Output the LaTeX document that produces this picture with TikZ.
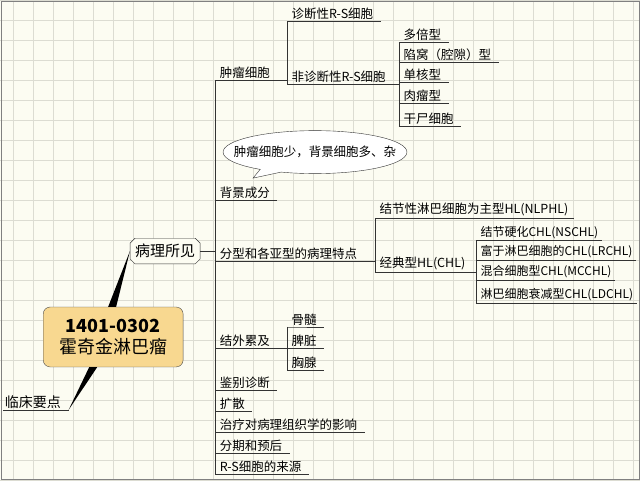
\documentclass[tikz,border=0pt]{standalone}
\usepackage{fontspec}
\newfontfamily\cjk{Noto Sans CJK SC}
\usetikzlibrary{shapes.misc,shapes.callouts}
\definecolor{paper}{HTML}{FCFCF2}
\definecolor{gridc}{HTML}{DCDCD2}
\definecolor{rootc}{HTML}{F8D890}
\tikzset{
  lbl/.style={anchor=south west, inner sep=1.5pt, font=\cjk\fontsize{12.5}{14}\selectfont},
  ul/.style={draw=black!80, line width=0.7pt}
}
\begin{document}
\begin{tikzpicture}[x=1pt,y=-1pt]
    \fill[paper] (0,0) rectangle (640,480);
    \draw[gridc, line width=0.5pt, xshift=13pt] (-13,0) grid[step=20pt] (627,480);
    \draw[gray] (0.5,0.5) rectangle (639.5,479.5);
    \useasboundingbox (0,0) rectangle (640,480);

    \node (root)[draw=black!70, fill=rootc, rounded corners=7pt, minimum width=140pt, minimum height=60pt,
      align=center, font=\cjk\fontsize{18}{21}\selectfont] at (113,337) {\textbf{1401-0302}\\霍奇金淋巴瘤};
    \node (path)[draw=black!80, fill=paper, chamfered rectangle, chamfered rectangle xsep=2pt, inner sep=3pt,
      font=\cjk\fontsize{15}{17}\selectfont] at (165,251) {病理所见};
    \node (clin)[anchor=south west, inner sep=1.5pt, font=\cjk\fontsize{14}{16}\selectfont] at (3,410) {临床要点};
    \draw[ul] (clin.south west) -- ([xshift=6pt]clin.south east) coordinate (clinE);
    \fill[black] ([xshift=-5pt]root.north) -- ([xshift=3pt]root.north) -- (path.west) -- cycle;
    \fill[black] ([xshift=-24pt]root.south) -- ([xshift=-16pt]root.south) -- (clinE) -- cycle;

    % main trunk
    \coordinate (t0a) at (215,80);  \coordinate (t0b) at (215,474);
    \draw[ul] (t0a) -- (t0b);
    \draw[ul] (path.east) -- (215,251);
    \foreach \name/\y/\txt in {tumor/80/肿瘤细胞, back/200/背景成分, type/261/分型和各亚型的病理特点,
       extra/348/结外累及, diff/390/鉴别诊断, spread/411/扩散, treat/432/治疗对病理组织学的影响,
       stage/453/分期和预后, origin/474/R-S细胞的来源}
      {\node (\name)[lbl] at (218,\y) {\txt};
       \draw[ul] (215,\y) -- (\name.south west) -- ([xshift=6pt]\name.south east);}

    % tumour cells
    \draw[ul] ([xshift=6pt]tumor.south east) -- (287,80);
    \draw[ul] (287,21) -- (287,84);
    \foreach \name/\y/\txt in {diag/21/诊断性R-S细胞, nondiag/84/非诊断性R-S细胞}
      {\node (\name)[lbl] at (290,\y) {\txt};
       \draw[ul] (287,\y) -- (\name.south west) -- ([xshift=6pt]\name.south east);}
    \draw[ul] ([xshift=6pt]nondiag.south east) -- (399,84);
    \draw[ul] (399,42) -- (399,126);
    \foreach \name/\y/\txt in {poly/42/多倍型, lacun/62/陷窝（腔隙）型, mono/82/单核型,
       sarc/103/肉瘤型, mummy/126/干尸细胞}
      {\node (\name)[lbl] at (402,\y) {\txt};
       \draw[ul] (399,\y) -- (\name.south west) -- ([xshift=6pt]\name.south east);}

    % background callout
    \node (note)[draw=black!80, fill=white, ellipse callout, inner xsep=-22pt, inner ysep=4pt,
      minimum width=184pt, minimum height=43pt,
      callout absolute pointer={(253,178)}, font=\cjk\fontsize{12.5}{14}\selectfont] at (315,152)
      {肿瘤细胞少，背景细胞多、杂};

    % types
    \draw[ul] ([xshift=6pt]type.south east) -- (375,261);
    \draw[ul] (375,218) -- (375,272);
    \foreach \name/\y/\txt in {nlphl/218/结节性淋巴细胞为主型HL(NLPHL), chl/272/经典型HL(CHL)}
      {\node (\name)[lbl] at (378,\y) {\txt};
       \draw[ul] (375,\y) -- (\name.south west) -- ([xshift=4pt]\name.south east);}
    \draw[ul] ([xshift=4pt]chl.south east) -- (476,272);
    \draw[ul] (476,240) -- (476,303);
    \foreach \name/\y/\txt in {ns/240/结节硬化CHL(NSCHL), lr/260/富于淋巴细胞的CHL(LRCHL),
       mc/280/混合细胞型CHL(MCCHL), ld/303/淋巴细胞衰减型CHL(LDCHL)}
      {\node (\name)[lbl, font=\cjk\fontsize{12}{14}\selectfont] at (479,\y) {\txt};
       \draw[ul] (476,\y) -- (\name.south west) -- ([xshift=2pt]\name.south east);}

    % extranodal
    \draw[ul] ([xshift=6pt]extra.south east) -- (287,348);
    \draw[ul] (287,327) -- (287,370);
    \foreach \name/\y/\txt in {marrow/327/骨髓, spleen/348/脾脏, thymus/370/胸腺}
      {\node (\name)[lbl] at (290,\y) {\txt};
       \draw[ul] (287,\y) -- (\name.south west) -- ([xshift=6pt]\name.south east);}
\end{tikzpicture}
\end{document}
